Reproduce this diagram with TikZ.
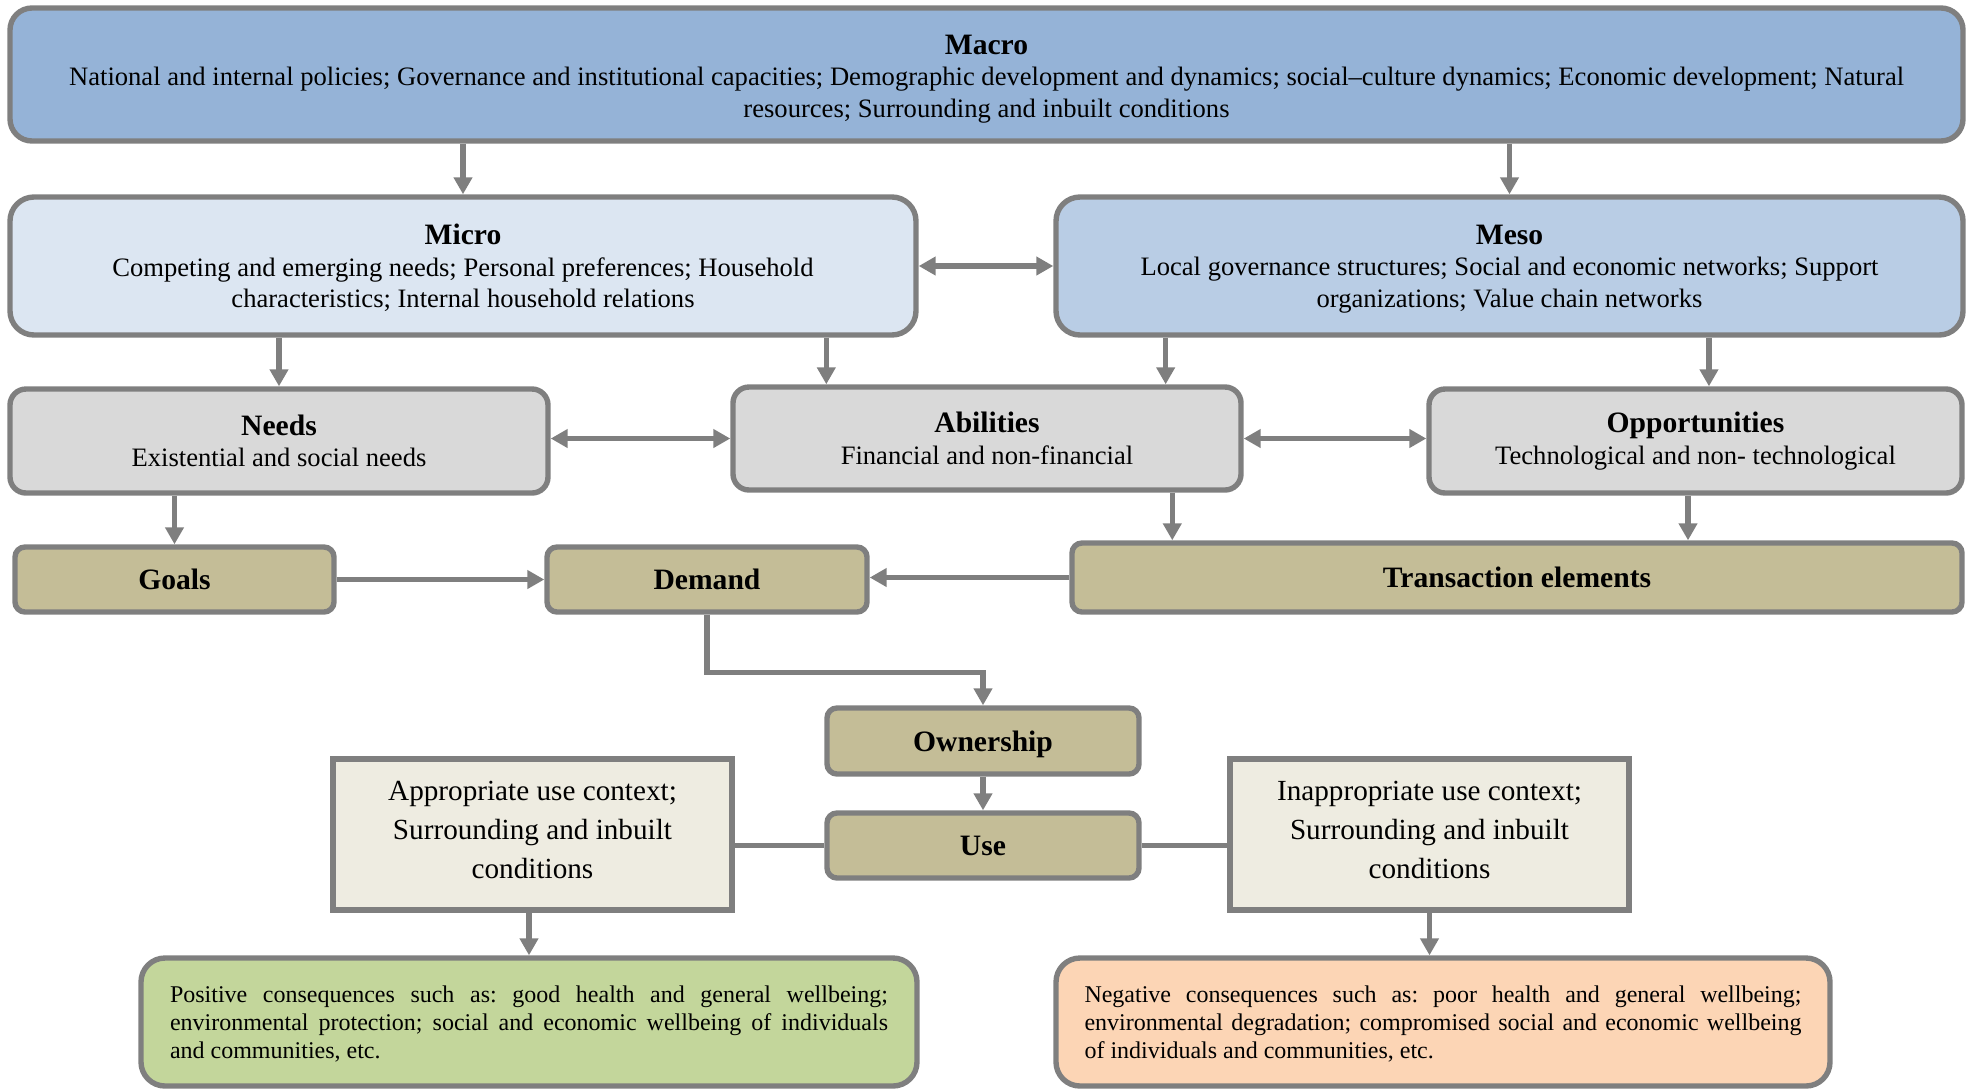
\documentclass[tikz,border=0pt]{standalone}
\usepackage{fontspec}
\setmainfont{Liberation Serif}
\usetikzlibrary{calc,arrows.meta}

\definecolor{edge}{HTML}{7F7F7F}
\definecolor{macroc}{HTML}{95B3D7}
\definecolor{microc}{HTML}{DCE6F2}
\definecolor{mesoc}{HTML}{B9CDE5}
\definecolor{greyc}{HTML}{D9D9D9}
\definecolor{khakic}{HTML}{C4BD97}
\definecolor{creamc}{HTML}{EEECE1}
\definecolor{greenc}{HTML}{C3D69B}
\definecolor{peachc}{HTML}{FCD5B5}

\newcommand{\boxtitle}[1]{{\fontsize{14.8}{15.75}\selectfont\bfseries #1}}

\begin{document}
\frenchspacing
\begin{tikzpicture}[x=0.5pt,y=-0.5pt,
  box/.style={draw=edge, line width=2.7pt, inner sep=0pt, align=center,
    font=\fontsize{13.3}{15.75}\selectfont},
  rbox/.style={box, rounded corners=#1},
  ctx/.style={box, fill=creamc, font=\fontsize{14.6}{19.5}\selectfont,
    minimum width=199.5pt, minimum height=75.5pt},
  cons/.style={box, rounded corners=12pt, align=justify, text width=359pt,
    font=\fontsize{12}{14}\selectfont, minimum width=388pt, minimum height=64pt},
  tip/.tip={Triangle[length=8.5pt,width=9pt]},
  link/.style={draw=edge, line width=2.6pt},
  arr/.style={link, -tip},
  dbl/.style={link, tip-tip}]

\useasboundingbox (0,0) rectangle (1976,1089);

% upper levels
\node[rbox=11pt, fill=macroc, minimum width=976.5pt, minimum height=66.5pt] (macro) at (986.5,74.5)
  {\rule{0pt}{14.2pt}\boxtitle{Macro}\\National and internal policies; Governance and institutional capacities; Demographic development and dynamics; social–culture dynamics; Economic development; Natural\\resources; Surrounding and inbuilt conditions};
\node[rbox=12pt, fill=microc, minimum width=453pt, minimum height=69pt] (micro) at (463,266)
  {\rule{0pt}{12.5pt}\boxtitle{Micro}\\Competing and emerging needs; Personal preferences; Household\\characteristics; Internal household relations};
\node[rbox=12pt, fill=mesoc, minimum width=453.5pt, minimum height=69pt] (meso) at (1509.5,266)
  {\rule{0pt}{12.5pt}\boxtitle{Meso}\\Local governance structures; Social and economic networks; Support\\organizations; Value chain networks};

% needs, abilities, opportunities
\node[rbox=8pt, fill=greyc, minimum width=269pt, minimum height=52pt] (needs) at (279,441)
  {\boxtitle{Needs}\\Existential and social needs};
\node[rbox=8pt, fill=greyc, minimum width=254pt, minimum height=51.5pt] (abilities) at (987,438.5)
  {\boxtitle{Abilities}\\Financial and non-financial};
\node[rbox=8pt, fill=greyc, minimum width=266.5pt, minimum height=52pt] (opportunities) at (1695.5,441)
  {\boxtitle{Opportunities}\\Technological and non- technological};

% goals, demand, transaction elements
\node[rbox=5pt, fill=khakic, minimum width=159.5pt, minimum height=32.5pt] (goals) at (174.5,579.5)
  {\boxtitle{Goals}};
\node[rbox=5pt, fill=khakic, minimum width=160pt, minimum height=32.5pt] (demand) at (707,579.5)
  {\boxtitle{Demand}};
\node[rbox=5pt, fill=khakic, minimum width=445pt, minimum height=34.5pt] (transaction) at (1517,577.5)
  {\boxtitle{Transaction elements}};

% ownership and use
\node[rbox=5pt, fill=khakic, minimum width=156pt, minimum height=33pt] (ownership) at (983,741)
  {\rule{0pt}{13.5pt}\boxtitle{Ownership}};
\node[rbox=5pt, fill=khakic, minimum width=156pt, minimum height=32.5pt] (use) at (983,845.5)
  {\boxtitle{Use}};

% use contexts
\node[ctx] (appropriate) at (532.5,834.5)
  {Appropriate use context;\\Surrounding and inbuilt\\conditions\rule[-5pt]{0pt}{0pt}};
\node[ctx] (inappropriate) at (1429.5,834.5)
  {Inappropriate use context;\\Surrounding and inbuilt\\conditions\rule[-5pt]{0pt}{0pt}};

% consequences
\node[cons, fill=greenc] (positive) at (529,1022)
  {\rule{0pt}{10.5pt}Positive consequences such as: good health and general wellbeing;\linebreak environmental protection; social and economic wellbeing of individuals\linebreak and communities, etc.};
\node[cons, fill=peachc, text width=358.5pt, minimum width=387pt] (negative) at (1443,1022)
  {\rule{0pt}{10.5pt}Negative consequences such as: poor health and general wellbeing;\linebreak environmental degradation; compromised social and economic wellbeing\linebreak of individuals and communities, etc.};

% connectors
\coordinate (abA) at ($(abilities.north west)!0.187!(abilities.north east)$);
\coordinate (abB) at ($(abilities.north west)!0.848!(abilities.north east)$);
\coordinate (opA) at ($(opportunities.north west)!0.525!(opportunities.north east)$);
\coordinate (trA) at ($(transaction.north west)!0.115!(transaction.north east)$);
\coordinate (trB) at ($(transaction.north west)!0.691!(transaction.north east)$);

\draw[arr] (macro.south -| micro.north) -- (micro.north);
\draw[arr] (macro.south -| meso.north) -- (meso.north);
\draw[dbl] (micro.east) -- (meso.west);

\draw[arr] (micro.south -| needs.north) -- (needs.north);
\draw[arr] (micro.south -| abA) -- (abA);
\draw[arr] (meso.south -| abB) -- (abB);
\draw[arr] (meso.south -| opA) -- (opA);

\draw[dbl] (needs.east |- abilities.west) -- (abilities.west);
\draw[dbl] (abilities.east) -- (abilities.east -| opportunities.west);

\draw[arr] (needs.south -| goals.north) -- (goals.north);
\draw[arr] (abilities.south -| trA) -- (trA);
\draw[arr] (opportunities.south -| trB) -- (trB);

\draw[arr] (goals.east) -- (demand.west);
\draw[arr] (transaction.west) -- (transaction.west -| demand.east);

\draw[arr] (demand.south) -- ++(0,58) -| (ownership.north);
\draw[arr] (ownership.south) -- (use.north);

\draw[link] (use.west) -- (use.west -| appropriate.east);
\draw[link] (use.east) -- (use.east -| inappropriate.west);

\draw[arr] (appropriate.south -| positive.north) -- (positive.north);
\draw[arr] (inappropriate.south) -- (inappropriate.south |- negative.north);

\end{tikzpicture}
\end{document}
